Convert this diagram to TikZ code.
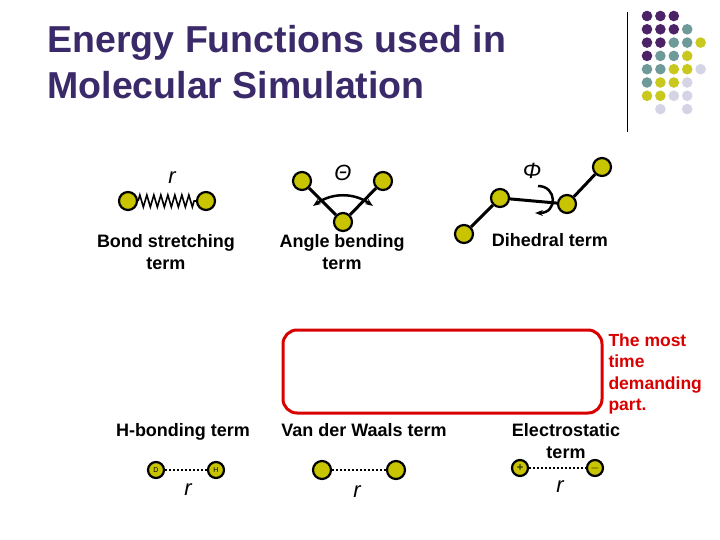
\documentclass[tikz,border=0pt]{standalone}
\usepackage{fontspec}
\setmainfont{Liberation Sans}
\usetikzlibrary{decorations.pathmorphing,arrows.meta}
\definecolor{ttl}{HTML}{3A2A6A}
\definecolor{atm}{HTML}{C8C400}
\definecolor{dP}{HTML}{4B2366}
\definecolor{dT}{HTML}{6E9A9A}
\definecolor{dY}{HTML}{C8C81E}
\definecolor{dL}{HTML}{D4D4E6}
\definecolor{dN}{HTML}{FFFFFF}
\tikzset{x=1pt,y=-1pt,
 atom/.style={circle,draw=black,line width=2.2pt,fill=atm,minimum size=18pt,inner sep=0pt},
 bond/.style={line width=3pt},
 lbl/.style={font=\bfseries\fontsize{18}{22}\selectfont,align=center},
 sym/.style={font=\itshape\fontsize{22}{24}\selectfont},
 dots/.style={line width=2.5pt,dash pattern=on 2pt off 2pt}}
\begin{document}
\begin{tikzpicture}
\fill[white] (0,0) rectangle (720,540);
\useasboundingbox (0,0) rectangle (720,540);
\node[anchor=west,font=\bfseries\fontsize{37.5}{46}\selectfont,text=ttl,align=left] (title) at (44,62) {Energy Functions used in\\Molecular Simulation};
\draw[line width=0.8pt] (627,12) -- (627,132);
\foreach \r/\cols in {0/{P,P,P},1/{P,P,P,T},2/{P,P,T,T,Y},3/{P,T,T,Y},4/{T,T,Y,Y,L},5/{T,Y,Y,L},6/{Y,Y,L,L},7/{N,L,N,L}}{
 \foreach \c [count=\i from 0] in \cols {
  \fill[d\c] (647+\i*13.4,16+\r*13.3) circle (5.3);
  }}
% bond stretching
\node[atom] (b1) at (128,201) {};
\node[atom] (b2) at (206,201) {};
\draw[line width=1.6pt,decorate,decoration={zigzag,segment length=7pt,amplitude=6pt}] (b1) -- (b2);
\node[sym] (br) at (172,178) {r};
\node[lbl] (bl) at (166,252) {Bond stretching\\term};
% angle
\node[atom] (a1) at (302,181) {};
\node[atom] (a2) at (383,181) {};
\node[atom] (a3) at (343,222) {};
\draw[bond] (a1) -- (a3) -- (a2);
\draw[line width=2.5pt,{Stealth[length=8pt]}-{Stealth[length=8pt]}] (313,206) to[bend left=35] (373,206);
\node[sym] (at) at (343,173) {Θ};
\node[lbl] (al) at (342,252) {Angle bending\\term};
% dihedral
\node[atom] (d1) at (464,234) {};
\node[atom] (d2) at (500,198) {};
\node[atom] (d3) at (567,204) {};
\node[atom] (d4) at (602,167) {};
\draw[bond] (d1) -- (d2) -- (d3) -- (d4);
\draw[line width=2.5pt,-{Stealth[length=8pt]}] (538,186) .. controls (557,186) and (558,213) .. (535,213);
\node[sym] (dp) at (532,171) {Φ};
\node[lbl] (dl) at (550,240) {Dihedral term};
% red box
\draw[red!85!black,line width=3pt,rounded corners=14pt] (283,330) rectangle (602,413);
\node[lbl,text=red!85!black,align=left,anchor=north west,font=\bfseries\fontsize{17.5}{21.5}\selectfont] (note) at (605,330) {The most\\time\\demanding\\part.};
% bottom
\node[lbl] (hl) at (183,432) {H-bonding term};
\node[lbl] (vl) at (364,430) {Van der Waals term};
\node[lbl] (el) at (566,441) {Electrostatic\\term};
\node[atom,minimum size=16pt,label={[font=\scriptsize]center:D}] (h1) at (156,470) {};
\node[atom,minimum size=16pt,label={[font=\scriptsize]center:H}] (h2) at (216,470) {};
\draw[dots] (h1) -- (h2);
\node[sym] (hr) at (188,490) {r};
\node[atom] (v1) at (322,470) {};
\node[atom] (v2) at (396,470) {};
\draw[dots] (v1) -- (v2);
\node[sym] (vr) at (357,492) {r};
\node[atom,minimum size=16pt,label={[font=\large]center:+}] (e1) at (520,468) {};
\node[atom,minimum size=16pt,label={[font=\large]center:$-$}] (e2) at (595,468) {};
\draw[dots] (e1) -- (e2);
\node[sym] (er) at (560,487) {r};
\end{tikzpicture}
\end{document}
